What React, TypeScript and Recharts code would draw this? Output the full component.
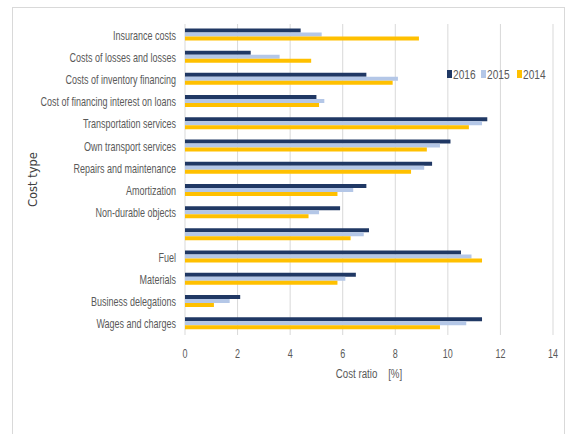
import React from "react";
import {
  BarChart,
  Bar,
  XAxis,
  YAxis,
  CartesianGrid,
  Legend,
} from "recharts";

const categories = [
  "Insurance costs",
  "Costs of losses and losses",
  "Costs of inventory financing",
  "Cost of financing interest on loans",
  "Transportation services",
  "Own transport services",
  "Repairs and maintenance",
  "Amortization",
  "Non-durable objects",
  "",
  "Fuel",
  "Materials",
  "Business delegations",
  "Wages and charges",
];

const values2016 = [4.4, 2.5, 6.9, 5.0, 11.5, 10.1, 9.4, 6.9, 5.9, 7.0, 10.5, 6.5, 2.1, 11.3];
const values2015 = [5.2, 3.6, 8.1, 5.3, 11.3, 9.7, 9.1, 6.4, 5.1, 6.8, 10.9, 6.1, 1.7, 10.7];
const values2014 = [8.9, 4.8, 7.9, 5.1, 10.8, 9.2, 8.6, 5.8, 4.7, 6.3, 11.3, 5.8, 1.1, 9.7];

const xTicks = [0, 2, 4, 6, 8, 10, 12, 14];

const COLORS = {
  y2016: "#203864",
  y2015: "#b4c7e7",
  y2014: "#ffc000",
  text: "#595959",
  grid: "#d9d9d9",
};

const FONT = "'Liberation Sans', Arial, sans-serif";
// horizontal squeeze so the sans text reads like a narrow office font
const SQUEEZE = 0.72;

const data = categories.map((name, i) => ({
  name,
  y2016: values2016[i],
  y2015: values2015[i],
  y2014: values2014[i],
}));

const legendItems = [
  { key: "y2016", label: "2016", x: 0 },
  { key: "y2015", label: "2015", x: 34 },
  { key: "y2014", label: "2014", x: 70 },
];

function NarrowTick(props: any) {
  const { x, y, payload, textAnchor, dy, fontSize = 12.5 } = props;
  return (
    <g transform={`translate(${x},${y}) scale(${SQUEEZE},1)`}>
      <text
        x={0}
        y={0}
        dy={dy}
        textAnchor={textAnchor}
        fill={COLORS.text}
        fontSize={fontSize}
        fontFamily={FONT}
      >
        {payload.value}
      </text>
    </g>
  );
}

function YTick(props: any) {
  return <NarrowTick {...props} dy="0.36em" textAnchor="end" />;
}

function XTick(props: any) {
  return <NarrowTick {...props} dy="0.71em" textAnchor="middle" />;
}

function YearLegend() {
  return (
    <svg width={110} height={16} style={{ display: "block" }}>
      {legendItems.map((it) => (
        <g key={it.key}>
          <rect x={it.x} y={4} width={5} height={8} fill={COLORS[it.key as keyof typeof COLORS]} />
          <g transform={`translate(${it.x + 6},12.5) scale(0.78,1)`}>
            <text x={0} y={0} fill={COLORS.text} fontSize={13} fontFamily={FONT}>
              {it.label}
            </text>
          </g>
        </g>
      ))}
    </svg>
  );
}

function CostTypeLabel(props: any) {
  const vb = props.viewBox || {};
  const cx = 33;
  const cy = (vb.y ?? 0) + (vb.height ?? 0) / 2;
  return (
    <text
      x={cx}
      y={cy}
      transform={`rotate(-90 ${cx} ${cy})`}
      textAnchor="middle"
      dominantBaseline="central"
      fill="#404040"
      fontFamily="'DejaVu Sans', sans-serif"
      fontSize={11.5}
    >
      Cost type
    </text>
  );
}

function CostRatioLabel(props: any) {
  const vb = props.viewBox || {};
  const cx = (vb.x ?? 0) + (vb.width ?? 0) / 2;
  return (
    <g transform={`translate(${cx},378) scale(${SQUEEZE},1)`}>
      <text x={0} y={0} textAnchor="middle" fill={COLORS.text} fontSize={13.5} fontFamily={FONT} style={{ whiteSpace: "pre" }}>
        {"Cost ratio    [%]"}
      </text>
    </g>
  );
}

export default function App() {
  return (
    <div style={{ position: "absolute", left: 0, top: 0, width: 568, height: 434, background: "#fff" }}>
      <div
        style={{
          position: "absolute",
          left: 12,
          top: 7,
          width: 553,
          height: 440,
          border: "1px solid #d9d9d9",
          boxSizing: "border-box",
        }}
      />
      <BarChart
        width={568}
        height={434}
        data={data}
        layout="vertical"
        margin={{ top: 24, right: 15, bottom: 69, left: 0 }}
        barCategoryGap="20%"
        barGap={0}
        style={{ position: "absolute", left: 0, top: 0 }}
      >
        <CartesianGrid horizontal={false} stroke={COLORS.grid} />
        <XAxis
          type="number"
          domain={[0, 14]}
          ticks={xTicks}
          height={30}
          axisLine={false}
          tickLine={false}
          tickMargin={8}
          tick={<XTick />}
          label={{ content: (p: any) => <CostRatioLabel {...p} /> }}
        />
        <YAxis
          type="category"
          dataKey="name"
          width={185}
          axisLine={false}
          tickLine={false}
          tickSize={7}
          tickMargin={2}
          interval={0}
          tick={<YTick />}
          label={{ content: (p: any) => <CostTypeLabel {...p} /> }}
        />
        <Legend
          layout="horizontal"
          verticalAlign="middle"
          align="center"
          content={() => <YearLegend />}
          wrapperStyle={{ top: 66, left: 447, width: 110, height: 16 }}
        />
        <Bar dataKey="y2016" name="2016" fill={COLORS.y2016} isAnimationActive={false} />
        <Bar dataKey="y2015" name="2015" fill={COLORS.y2015} isAnimationActive={false} />
        <Bar dataKey="y2014" name="2014" fill={COLORS.y2014} isAnimationActive={false} />
      </BarChart>
    </div>
  );
}
